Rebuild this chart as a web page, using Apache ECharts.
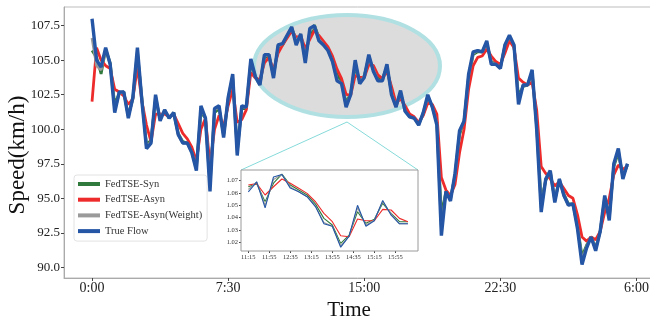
<!DOCTYPE html>
<html>
<head>
<meta charset="utf-8">
<script src="https://cdn.jsdelivr.net/npm/echarts@6/dist/echarts.min.js"></script>
<style>
  html, body { margin: 0; padding: 0; background: #fff; }
  #chart { width: 650px; height: 320px; }
</style>
</head>
<body>
<div id="chart"></div>
<script>
// one point every 15 min, starting 0:00
const seriesNames = ['FedTSE-Syn', 'FedTSE-Asyn', 'FedTSE-Asyn(Weight)', 'True Flow'];
const xTickPos = [0, 30, 60, 90, 120];
const xTickLabels = ['0:00', '7:30', '15:00', '22:30', '6:00'];
const yTicks = [90, 92.5, 95, 97.5, 100, 102.5, 105, 107.5];

const trueFlow = [
  108.0, 105.0, 104.5, 105.9, 104.7, 101.2, 102.7, 102.7, 100.8, 102.3,
  105.9, 102.0, 98.6, 99.0, 102.5, 100.6, 101.4, 100.8, 101.2, 99.6,
  99.0, 99.0, 98.3, 97.0, 101.7, 100.8, 95.5, 101.5, 101.7, 99.4,
  102.3, 104.0, 98.1, 101.7, 101.6, 105.1, 103.8, 103.2, 105.4, 105.4,
  103.7, 106.1, 106.2, 106.8, 107.4,
  106.1, 106.9, 104.8, 107.3, 107.5, 106.4, 106.1, 105.7, 104.9, 103.5,
  103.3, 101.6, 102.5, 105.0, 103.3, 103.75, 105.4, 104.2, 103.5, 103.5,
  104.7, 102.5, 101.6, 102.8, 101.3, 100.9, 100.8, 100.3, 101.2, 102.5,
  101.6, 100.3, 92.3, 95.5, 94.8, 96.8, 99.9, 100.6, 104.0, 105.6,
  105.7, 105.6, 106.4, 104.7, 104.7, 104.4, 106.1, 106.8, 106.1, 101.8,
  103.2, 103.2, 104.3, 100.0, 94.0, 96.4, 97.0, 94.7, 96.4, 95.2,
  94.5, 94.6, 92.8, 90.2, 91.4, 92.2, 91.2, 92.6, 95.2, 93.4,
  97.5, 98.6, 96.4, 97.5
];
const fedAsyn = [
  102.0, 105.9, 105.0, 104.6, 104.4, 102.9, 102.7, 102.4, 101.8, 102.2,
  104.5, 102.0, 100.3, 99.1, 101.1, 101.1, 101.1, 100.9, 101.1, 100.4,
  99.7, 99.3, 98.7, 97.7, 100.0, 100.8, 97.4, 100.0, 101.0, 100.2,
  101.7, 102.9, 100.5, 100.7, 101.4, 104.1, 103.7, 103.6, 104.8, 105.2,
  104.3, 105.5, 106.1, 106.6, 107.1,
  106.65, 106.76, 105.84, 106.51, 107.14, 106.79, 106.38, 105.97, 105.29, 104.35,
  103.67, 102.53, 102.45, 103.89, 103.75, 103.75, 104.67, 104.62, 103.94, 103.67,
  104.2, 103.1, 101.9, 102.2, 101.7, 101.1, 100.9, 100.5, 101.0, 101.9,
  101.8, 101.1, 96.5, 95.6, 95.2, 96.0, 98.3, 100.0, 102.9, 104.6,
  105.2, 105.3, 105.8, 105.3, 104.9, 104.7, 105.5, 106.4, 105.9, 103.7,
  103.4, 103.2, 103.4, 101.4, 97.3, 96.8, 96.4, 95.9, 96.2, 95.7,
  95.2, 95.0, 93.8, 92.2, 91.9, 92.2, 92.0, 92.6, 94.0, 95.0,
  96.7, 97.4, 97.1, 97.3
];
const fedSyn = [
  105.7, 105.2, 104.0, 105.8, 104.8, 101.8, 102.6, 102.7, 101.0, 102.2,
  105.5, 102.2, 98.9, 99.2, 102.2, 100.8, 101.3, 100.8, 101.2, 99.7,
  99.1, 99.0, 98.4, 97.3, 101.2, 100.8, 96.2, 101.2, 101.5, 99.6,
  102.1, 103.7, 98.6, 101.5, 101.5, 104.8, 103.8, 103.3, 105.2, 105.3,
  103.9, 105.9, 106.1, 106.7, 107.3,
  106.51, 106.76, 105.3, 106.8, 107.54, 106.65, 106.24, 105.84, 105.1, 103.94,
  103.4, 101.91, 102.58, 104.48, 103.54, 103.86, 105.16, 104.35, 103.67, 103.67,
  104.5, 102.7, 101.7, 102.6, 101.4, 101.0, 100.8, 100.4, 101.1, 102.3,
  101.7, 100.5, 93.8, 95.5, 95.0, 96.6, 99.6, 100.6, 103.7, 105.4,
  105.6, 105.6, 106.2, 104.9, 104.7, 104.5, 106.0, 106.6, 106.0, 102.4,
  103.1, 103.2, 104.1, 100.3, 94.8, 96.3, 96.9, 94.9, 96.3, 95.3,
  94.6, 94.6, 93.0, 90.8, 91.6, 92.2, 91.4, 92.6, 95.0, 93.7,
  97.3, 98.3, 96.6, 97.4
];
const fedAsynW = [
  106.6, 104.6, 104.3, 105.8, 104.7, 101.4, 102.6, 102.7, 100.9, 102.3,
  105.7, 102.1, 98.7, 99.1, 102.4, 100.7, 101.4, 100.8, 101.2, 99.6,
  99.0, 99.0, 98.3, 97.1, 101.5, 100.8, 95.8, 101.4, 101.6, 99.5,
  102.2, 103.9, 98.3, 101.6, 101.6, 105.0, 103.8, 103.2, 105.3, 105.4,
  103.8, 106.0, 106.2, 106.8, 107.4,
  106.3, 106.9, 105.0, 107.1, 107.5, 106.5, 106.1, 105.7, 104.9, 103.6,
  103.3, 101.7, 102.5, 104.8, 103.4, 103.8, 105.3, 104.3, 103.5, 103.5,
  104.6, 102.6, 101.6, 102.7, 101.3, 100.9, 100.8, 100.3, 101.2, 102.4,
  101.6, 100.4, 92.8, 95.5, 94.9, 96.7, 99.8, 100.6, 103.9, 105.5,
  105.7, 105.6, 106.3, 104.8, 104.7, 104.4, 106.1, 106.7, 106.1, 102.0,
  103.2, 103.2, 104.2, 100.1, 94.3, 96.4, 97.0, 94.8, 96.4, 95.2,
  94.5, 94.6, 92.9, 90.5, 91.5, 92.2, 91.3, 92.6, 95.1, 93.5,
  97.4, 98.5, 96.5, 97.5
];

// zoomed window 11:15 .. 16:00 (points 45..64), drawn scaled by 1/100
const zoomStart = 45;
const zoomEnd = 65;
const insetTickPos = [0, 2.5, 5, 7.5, 10, 12.5, 15, 17.5];
const insetTickLabels = ['11:15', '11:55', '12:35', '13:15', '13:55', '14:35', '15:15', '15:55'];
const insetYTicks = [1.02, 1.03, 1.04, 1.05, 1.06, 1.07];

const colors = ['#2f7a3c', '#ee2b2b', '#9a9a9a', '#2456a5'];
const serif = 'Liberation Serif';

function pairs(arr) {
  return arr.map(function (v, i) { return [i, v]; });
}
function insetPairs(arr) {
  return arr.slice(zoomStart, zoomEnd).map(function (v, i) { return [i, v / 100]; });
}

const allSeries = [fedSyn, fedAsyn, fedAsynW, trueFlow];
let series = [];
allSeries.forEach(function (arr, k) {
  series.push({
    name: seriesNames[k], type: 'line', data: pairs(arr),
    showSymbol: false, symbol: 'none', z: 3 + k,
    lineStyle: { width: k === 3 ? 3.4 : 2.8, color: colors[k] },
    itemStyle: { color: colors[k] },
    animation: false
  });
});
allSeries.forEach(function (arr, k) {
  series.push({
    name: seriesNames[k], type: 'line', data: insetPairs(arr),
    xAxisIndex: 1, yAxisIndex: 1,
    showSymbol: false, symbol: 'none', z: 20 + k,
    lineStyle: { width: 1.1, color: colors[k] },
    itemStyle: { color: colors[k] },
    animation: false
  });
});

let chart = echarts.init(document.getElementById('chart'));
let option = {
  animation: false,
  color: colors,
  grid: [
    {
      left: 64, top: 7, right: -1, bottom: 42, show: true, borderColor: '#bdbdbd', borderWidth: 1,
      outerBoundsMode: 'none', containLabel: false
    },
    {
      left: 241, top: 170, width: 177, height: 81, show: true, borderColor: '#9a9a9a', borderWidth: 1,
      backgroundColor: '#fff', z: 10, outerBoundsMode: 'none', containLabel: false
    }
  ],
  legend: {
    data: seriesNames,
    orient: 'vertical',
    left: 74, top: 175,
    icon: 'rect', itemWidth: 22, itemHeight: 4, itemGap: 3.7,
    padding: [3, 5, 4, 4],
    backgroundColor: '#fff', borderColor: '#e2e2e2', borderWidth: 1, borderRadius: 3,
    textStyle: { fontFamily: serif, fontSize: 10.5, color: '#333', lineHeight: 12 }
  },
  xAxis: [
    {
      type: 'value', min: -6.18, max: 123.2, gridIndex: 0,
      name: 'Time', nameLocation: 'middle', nameGap: 19,
      nameTextStyle: { fontFamily: serif, fontSize: 21, color: '#111', padding: [0, 17, 0, 0] },
      axisLine: { show: true, onZero: false, lineStyle: { color: '#aaa' } },
      axisTick: { show: true, length: 3, customValues: xTickPos, lineStyle: { color: '#444' } },
      axisLabel: {
        customValues: xTickPos, margin: 3, fontFamily: serif, fontSize: 14, color: '#222',
        formatter: function (v) { return xTickLabels[xTickPos.indexOf(v)]; }
      },
      splitLine: { show: false }
    },
    {
      type: 'value', min: -0.87, max: 20.2, gridIndex: 1,
      axisLine: { show: false, onZero: false },
      axisTick: { show: true, length: 2, customValues: insetTickPos, lineStyle: { color: '#444' } },
      axisLabel: {
        customValues: insetTickPos, margin: 3, fontFamily: serif, fontSize: 6.5, color: '#333',
        formatter: function (v) { return insetTickLabels[insetTickPos.indexOf(v)]; }
      },
      splitLine: { show: false }
    }
  ],
  yAxis: [
    {
      type: 'value', min: 89.23, max: 108.85, gridIndex: 0,
      axisLine: { show: true, onZero: false, lineStyle: { color: '#aaa' } },
      axisTick: { show: true, length: 3, customValues: yTicks, lineStyle: { color: '#444' } },
      axisLabel: {
        customValues: yTicks, margin: 4, fontFamily: serif, fontSize: 13, color: '#222',
        formatter: function (v) { return v.toFixed(1); }
      },
      splitLine: { show: false }
    },
    {
      type: 'value', min: 1.0129, max: 1.0787, gridIndex: 1,
      axisLine: { show: false, onZero: false },
      axisTick: { show: true, length: 2, customValues: insetYTicks, lineStyle: { color: '#444' } },
      axisLabel: {
        customValues: insetYTicks, margin: 3, fontFamily: serif, fontSize: 6.5, color: '#333',
        formatter: function (v) { return v.toFixed(2); }
      },
      splitLine: { show: false }
    }
  ],
  graphic: [
    {
      type: 'ellipse', z: 1,
      shape: { cx: 347, cy: 66, rx: 93, ry: 51 },
      style: { fill: '#dcdcdc', stroke: '#b1e0e3', lineWidth: 4 }
    },
    {
      type: 'line', z: 1,
      shape: { x1: 347, y1: 122, x2: 241, y2: 170 },
      style: { stroke: '#86dada', lineWidth: 1 }
    },
    {
      type: 'line', z: 1,
      shape: { x1: 347, y1: 122, x2: 418, y2: 170 },
      style: { stroke: '#86dada', lineWidth: 1 }
    },
    {
      type: 'text', x: 18, y: 155, rotation: Math.PI / 2,
      style: { text: 'Speed(km/h)', fontFamily: serif, fontSize: 23, fill: '#111', align: 'center', verticalAlign: 'middle' }
    }
  ],
  series: series
};
chart.setOption(option);
</script>
</body>
</html>
